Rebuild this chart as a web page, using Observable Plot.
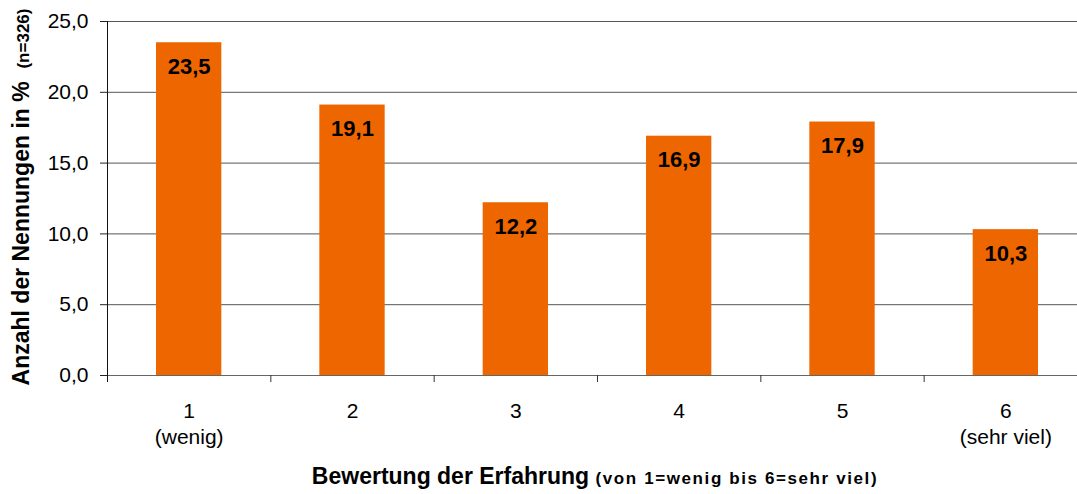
<!DOCTYPE html>
<html>
<head>
<meta charset="utf-8">
<script src="https://cdn.jsdelivr.net/npm/d3@7"></script>
<script src="https://cdn.jsdelivr.net/npm/@observablehq/plot@0.6"></script>
<style>
  html, body { margin: 0; padding: 0; background: #fff; }
  svg { display: block; }
</style>
</head>
<body>
<div id="chart"></div>
<script>
const categories = [1, 2, 3, 4, 5, 6];
const categoryLabels = ["1\n(wenig)", "2", "3", "4", "5", "6\n(sehr viel)"];
const values = [23.5, 19.1, 12.2, 16.9, 17.9, 10.3];
const yTicks = [0, 5, 10, 15, 20, 25];
const yTitle = "Anzahl der Nennungen in %";
const yTitleSmall = "(n=326)";
const xTitle = "Bewertung der Erfahrung";
const xTitleSmall = "(von 1=wenig bis 6=sehr viel)";

const data = categories.map((c, i) => ({c, v: values[i], label: categoryLabels[i]}));
const boundaries = categories.map(c => c - 0.5).concat([categories[categories.length - 1] + 0.5]);
const halfBar = 0.2;
const fmt = v => d3.format(".1f")(v).replace(".", ",");

const W = 1077, H = 494;
const plot = Plot.plot({
  width: W,
  height: H,
  marginLeft: 107,
  marginRight: 0,
  marginTop: 21,
  marginBottom: 119,
  style: {fontFamily: "Liberation Sans, Arial, sans-serif", background: "#fff", overflow: "hidden"},
  x: {domain: [0.5, 6.5], range: [107, 1087], axis: null},
  y: {domain: [0, 25], axis: null},
  marks: [
    Plot.ruleY(yTicks, {stroke: "#555", strokeWidth: 1}),
    Plot.rectY(data, {x1: d => d.c - halfBar, x2: d => d.c + halfBar, y1: 0, y2: "v", fill: "#EE6600"}),
    Plot.ruleY([0], {stroke: "#666", strokeWidth: 1.2}),
    Plot.ruleX([boundaries[0]], {stroke: "#111", strokeWidth: 1, insetBottom: -7}),
    Plot.ruleX(boundaries.slice(1), {y1: 0, y2: 0, stroke: "#333", strokeWidth: 1, insetBottom: -7}),
    Plot.axisY({ticks: yTicks, tickSize: 7, tickPadding: 12, tickFormat: fmt, fontSize: 21, stroke: "#222", fill: "#000", label: null}),
    Plot.text(data, {x: "c", y: "v", text: d => fmt(d.v), dy: 24, lineAnchor: "middle", fontSize: 22, fontWeight: "bold", fill: "#000"}),
    Plot.text(data, {x: "c", y: 0, text: "label", lineAnchor: "top", dy: 25, fontSize: 21, lineHeight: 1.2, fill: "#000"})
  ]
});

const svg = d3.select(plot);
const xt = svg.append("text")
  .attr("x", 595).attr("y", 484)
  .attr("text-anchor", "middle")
  .attr("font-weight", "bold")
  .attr("fill", "#000");
xt.append("tspan").attr("font-size", 23).text(xTitle + " ");
xt.append("tspan").attr("font-size", 17).attr("letter-spacing", 1.6).text(xTitleSmall);

const yt = svg.append("text")
  .attr("transform", "translate(29,197) rotate(-90)")
  .attr("text-anchor", "middle")
  .attr("font-weight", "bold")
  .attr("fill", "#000");
yt.append("tspan").attr("font-size", 23).text(yTitle + "  ");
yt.append("tspan").attr("font-size", 17).text(yTitleSmall);

document.getElementById("chart").appendChild(plot);
</script>
</body>
</html>
